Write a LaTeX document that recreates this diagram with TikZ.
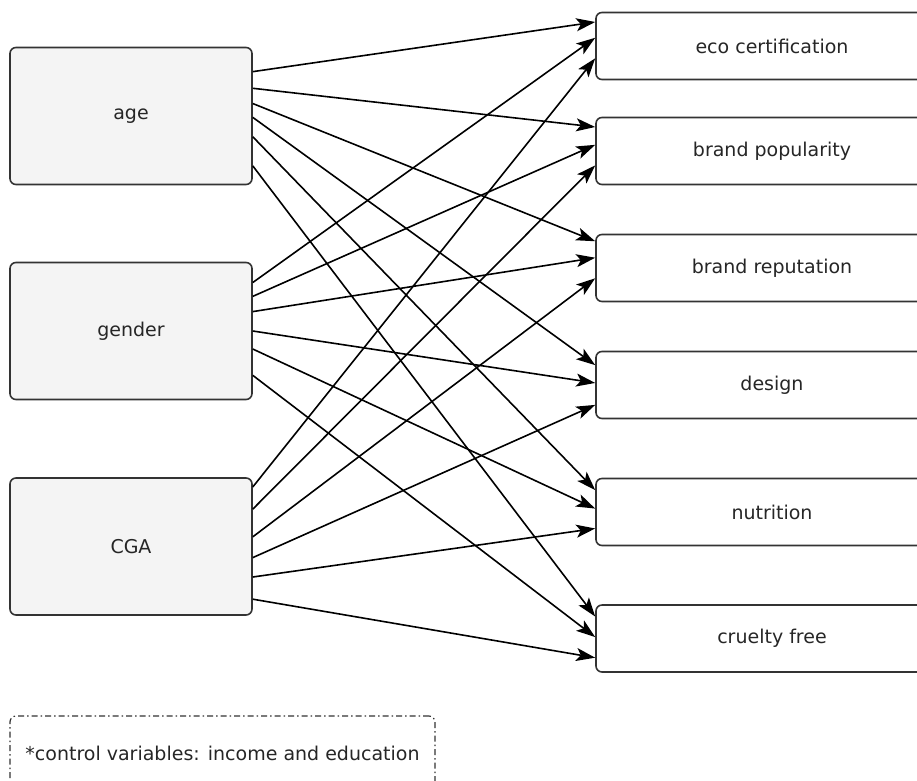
\documentclass[tikz,border=0pt]{standalone}
\usepackage{fontspec}
\setmainfont{DejaVu Sans}
\usetikzlibrary{calc, arrows.meta}
\definecolor{edge}{rgb}{0.2,0.2,0.2}
\definecolor{panel}{rgb}{0.957,0.957,0.957}

\begin{document}
\begin{tikzpicture}[
  x=1pt, y=-1pt,
  every node/.style={
    font=\fontsize{19}{23}\selectfont,
    text=black!85,
    inner sep=0pt
  },
  factor/.style={draw=edge, fill=panel, line width=1.6pt, rounded corners=6pt,
    minimum width=242pt, minimum height=137pt},
  outcome/.style={draw=edge, fill=white, line width=1.6pt, rounded corners=6pt,
    minimum width=352pt, minimum height=67pt},
  note/.style={draw=edge, line width=1.2pt, rounded corners=6pt,
    dash pattern=on 6pt off 3pt on 1.5pt off 3pt,
    minimum width=425pt, minimum height=74pt},
  link/.style={line width=1.6pt, -{Stealth[length=19pt,width=13pt,inset=4.5pt]}},
]

\useasboundingbox (0,0) rectangle (917,780);
\clip (0,0) rectangle (917,780);

% predictors
\node[factor] (age)    at (131,116)   {age};
\node[factor] (gender) at (131,331)   {gender};
\node[factor] (cga)    at (131,546.5) {CGA};

% outcomes
\node[outcome] (eco)       at (772,46)    {eco certification};
\node[outcome] (pop)       at (772,151)   {brand popularity};
\node[outcome] (rep)       at (772,268)   {brand reputation};
\node[outcome] (design)    at (772,385)   {design};
\node[outcome] (nutrition) at (772,512)   {nutrition};
\node[outcome] (cruelty)   at (772,638.5) {cruelty free};

\node[note] (controls) at (222.5,753) {*control variables: income and education};

\foreach \src/\a/\dst/\b in {
  age/0.18/eco/0.15, age/0.30/pop/0.15, age/0.41/rep/0.11,
  age/0.51/design/0.21, age/0.65/nutrition/0.18, age/0.86/cruelty/0.18,
  gender/0.15/eco/0.38, gender/0.25/pop/0.41, gender/0.36/rep/0.35,
  gender/0.50/design/0.47, gender/0.63/nutrition/0.45, gender/0.82/cruelty/0.48,
  cga/0.07/eco/0.68, cga/0.23/pop/0.71, cga/0.43/rep/0.65,
  cga/0.58/design/0.79, cga/0.72/nutrition/0.74, cga/0.88/cruelty/0.78}
  \draw[link] ($(\src.north east)!\a!(\src.south east)$)
    -- ($(\dst.north west)!\b!(\dst.south west)$);

\end{tikzpicture}
\end{document}
